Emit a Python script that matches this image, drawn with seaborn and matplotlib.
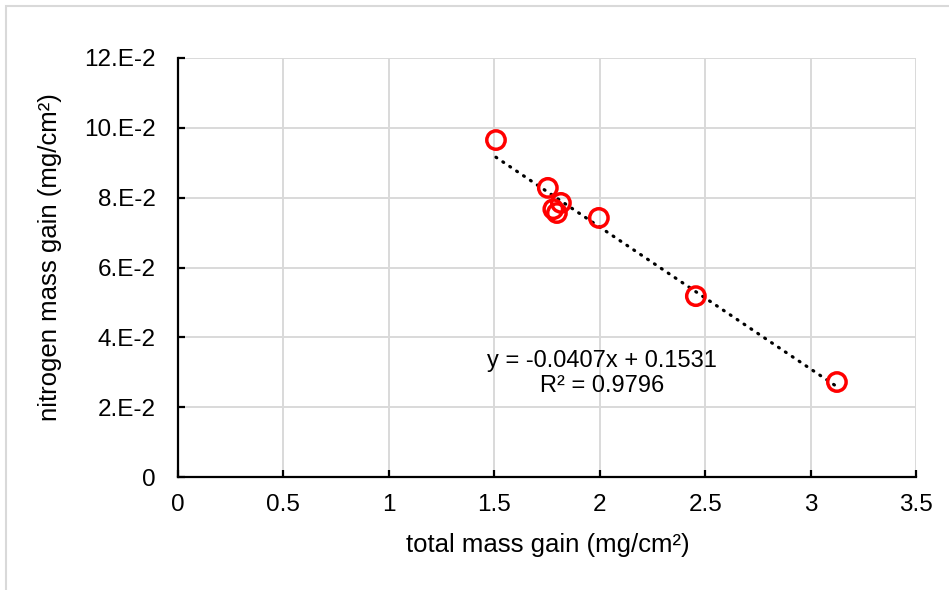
import matplotlib
matplotlib.use("Agg")
import matplotlib.pyplot as plt
import seaborn as sns
import pandas as pd
from matplotlib.patches import Rectangle

total_mass_gain = [1.508, 1.754, 1.816, 1.780, 1.797, 1.996, 2.456, 3.125]
nitrogen_mass_gain = [0.0965, 0.0828, 0.0785, 0.0767, 0.0756, 0.0742, 0.0518, 0.0272]
x_ticks = [0, 0.5, 1, 1.5, 2, 2.5, 3, 3.5]
x_tick_labels = ["0", "0.5", "1", "1.5", "2", "2.5", "3", "3.5"]
y_ticks = [0, 0.02, 0.04, 0.06, 0.08, 0.10, 0.12]
y_tick_labels = ["0", "2.E-2", "4.E-2", "6.E-2", "8.E-2", "10.E-2", "12.E-2"]
equation_text = "y = -0.0407x + 0.1531\nR² = 0.9796"
x_label = "total mass gain (mg/cm²)"
y_label = "nitrogen mass gain (mg/cm²)"

df = pd.DataFrame({"x": total_mass_gain, "y": nitrogen_mass_gain})

sns.set_theme(style="whitegrid")
plt.rcParams["font.family"] = ["Liberation Sans", "DejaVu Sans"]
plt.rcParams["xtick.direction"] = "in"
plt.rcParams["ytick.direction"] = "in"

fig = plt.figure(figsize=(9.49, 5.90), dpi=100)
ax = fig.add_axes([178 / 949, 1 - 477 / 590, (916 - 178) / 949, (477 - 58) / 590])

sns.regplot(data=df, x="x", y="y", ax=ax, scatter=False, ci=None, truncate=True,
            line_kws=dict(color="black", lw=2.3, linestyle=(0, (0.3, 2.3)),
                          dash_capstyle="round", zorder=2))
sns.scatterplot(data=df, x="x", y="y", ax=ax, marker="o", s=175,
                facecolors="none", edgecolor="#ff0000", linewidth=2.5, zorder=3)

ax.set_xlim(0, 3.5)
ax.set_ylim(0, 0.12)
ax.set_xticks(x_ticks)
ax.set_xticklabels(x_tick_labels)
ax.set_yticks(y_ticks)
ax.set_yticklabels(y_tick_labels)
ax.grid(True, color="#d9d9d9", lw=1.4)
ax.set_axisbelow(True)
for s in ["top", "right"]:
    ax.spines[s].set_visible(False)
for s in ["left", "bottom"]:
    ax.spines[s].set_visible(True)
    ax.spines[s].set_color("black")
    ax.spines[s].set_linewidth(1.6)
ax.tick_params(axis="both", which="major", direction="in", length=5, width=1.6,
               color="black", labelsize=17.5, labelcolor="black")
ax.tick_params(axis="x", pad=12, bottom=True, top=False)
ax.tick_params(axis="y", pad=16, left=True, right=False)
ax.set_xlabel(x_label, fontsize=18.5, color="black")
ax.set_ylabel(y_label, fontsize=18.5, color="black")
ax.xaxis.label.set_va("center")
ax.yaxis.label.set_va("center")
ax.xaxis.set_label_coords((548 - 178) / 738, -(545 - 477) / 419)
ax.yaxis.set_label_coords((50 - 178) / 738, (477 - 257) / 419)

ax.text(2.01, 0.0297, equation_text, ha="center", va="center", fontsize=17,
        color="black", linespacing=1.15)

fig.patches.append(Rectangle((6 / 949, -0.1), 1.2, 1.1 - 6 / 590, transform=fig.transFigure,
                             fill=False, edgecolor="#d9d9d9", lw=1.5))

fig.savefig("out.png", dpi=100)
